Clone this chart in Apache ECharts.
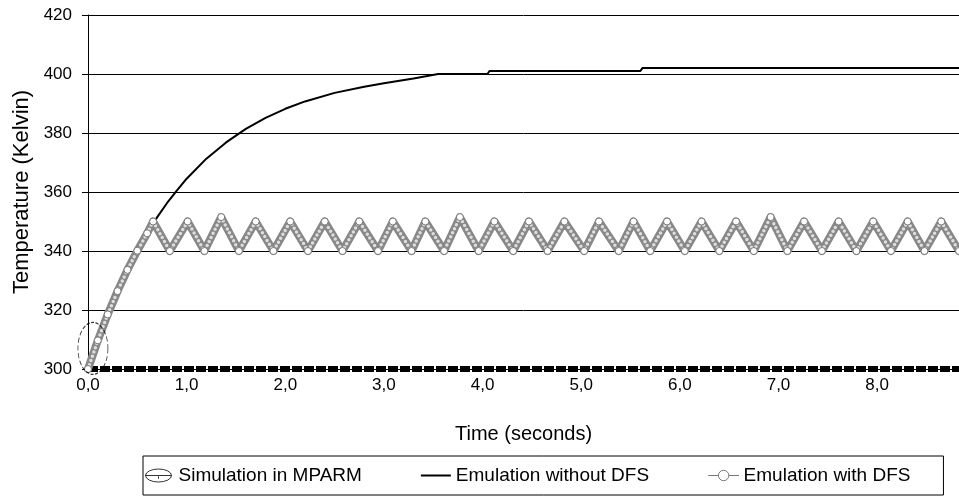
<!DOCTYPE html>
<html>
<head>
<meta charset="utf-8">
<script src="https://cdn.jsdelivr.net/npm/echarts@6/dist/echarts.min.js"></script>
<style>
  html, body { margin: 0; padding: 0; background: #fff; }
  #chart { width: 959px; height: 500px; }
</style>
</head>
<body>
<div id="chart"></div>
<script>
// --- data ---
const seriesNames = ['Simulation in MPARM', 'Emulation without DFS', 'Emulation with DFS'];
const tempTicks = [300, 320, 340, 360, 380, 400, 420];
const timeTicks = ['0,0', '1,0', '2,0', '3,0', '4,0', '5,0', '6,0', '7,0', '8,0'];
const timeEnd = 8.83;

// Emulation without DFS (steady climb, then integer steps)
const noDfsTime = [0, 0.1, 0.2, 0.3, 0.4, 0.5, 0.6, 0.7, 0.8, 0.9, 1.0, 1.2, 1.4, 1.6, 1.8, 2.0,
  2.2, 2.5, 2.8, 3.0, 3.3, 3.55, 4.05, 4.07, 5.6, 5.62, 8.83];
const noDfsTemp = [300, 309.7, 318.5, 326.4, 333.6, 340.1, 346.0, 351.4, 356.2, 360.5, 364.5, 371.3,
  376.8, 381.4, 385.1, 388.2, 390.7, 393.6, 395.7, 396.9, 398.5, 400, 400, 401, 401, 402, 402];

// Emulation with DFS: heating phase, then the sawtooth corners
const dfsTime = [0, 0.1, 0.2, 0.3, 0.4, 0.5, 0.6,
  0.66, 0.83, 1.01, 1.18, 1.35, 1.53, 1.70, 1.88, 2.05, 2.23, 2.40, 2.58, 2.75, 2.94,
  3.09, 3.28, 3.42, 3.61, 3.77, 3.96, 4.12, 4.31, 4.47, 4.66, 4.83, 5.03, 5.18, 5.38,
  5.53, 5.70, 5.87, 6.05, 6.22, 6.40, 6.57, 6.75, 6.92, 7.09, 7.26, 7.44, 7.61, 7.79,
  7.96, 8.14, 8.31, 8.48, 8.65, 8.83];
const dfsTemp = [300, 309.7, 318.5, 326.4, 333.6, 340.1, 346.0,
  350, 340, 350, 340, 351.5, 340, 350, 340, 350, 340, 350, 340, 350, 340,
  350, 340, 350, 340, 351.5, 340, 350, 340, 350, 340, 350, 340, 350, 340,
  350, 340, 350, 340, 350, 340, 350, 340, 351.5, 340, 350, 340, 350, 340,
  350, 340, 350, 340, 350, 340];

// Simulation in MPARM: only the very start, marked by an ellipse
const mparmTime = [0.05];
const mparmTemp = [307];

const pairs = (xs, ys) => xs.map((x, i) => [x, ys[i]]);
const FONT = '"Liberation Sans", Arial, sans-serif';
const dfsData = pairs(dfsTime, dfsTemp);

const chart = echarts.init(document.getElementById('chart'));
const option = {
  animation: false,
  grid: { left: 88, right: 0, top: 15, bottom: 131 },
  legend: {
    left: 143,
    top: 456,
    padding: [10, 33, 10, 2],
    itemGap: 59,
    itemWidth: 30,
    itemHeight: 13,
    borderColor: '#000',
    borderWidth: 1,
    textStyle: { fontFamily: FONT, fontSize: 19, color: '#000' },
    data: [
      {
        name: seriesNames[0],
        icon: 'path://M0,8 A16,8 0 1,0 32,8 A16,8 0 1,0 0,8 Z M0,8 L32,8 M16,9 L16,12',
        itemStyle: { color: 'rgba(0,0,0,0)', borderColor: '#000', borderWidth: 1, borderType: 'solid' }
      },
      {
        name: seriesNames[1],
        icon: 'path://M0,0 L30,0 L30,2 L0,2 Z',
        itemStyle: { color: '#000', borderWidth: 0 }
      },
      {
        name: seriesNames[2],
        lineStyle: { color: '#777', width: 1, type: 'solid' },
        itemStyle: { color: '#fff', borderColor: '#777', borderWidth: 1 }
      }
    ]
  },
  xAxis: {
    type: 'value',
    min: 0,
    max: timeEnd,
    interval: 1,
    name: 'Time (seconds)',
    nameLocation: 'middle',
    nameGap: 55,
    nameTextStyle: { fontFamily: FONT, fontSize: 20, color: '#000' },
    axisLine: { lineStyle: { color: '#000', width: 6, type: [10, 2], cap: 'butt' } },
    axisTick: { show: false },
    splitLine: { show: false },
    axisLabel: {
      margin: 8,
      showMaxLabel: false,
      fontFamily: FONT,
      fontSize: 17,
      color: '#000',
      formatter: (v) => (Number.isInteger(v) ? timeTicks[v] : '')
    }
  },
  yAxis: {
    type: 'value',
    min: tempTicks[0],
    max: tempTicks[tempTicks.length - 1],
    interval: tempTicks[1] - tempTicks[0],
    name: 'Temperature (Kelvin)',
    nameLocation: 'middle',
    nameGap: 55,
    nameTextStyle: { fontFamily: FONT, fontSize: 22, color: '#000' },
    axisLine: { show: true, lineStyle: { color: '#000', width: 1 } },
    axisTick: { show: true, length: 6, lineStyle: { color: '#000' } },
    splitLine: { lineStyle: { color: '#000', width: 1 } },
    axisLabel: { margin: 16, fontFamily: FONT, fontSize: 17, color: '#000' }
  },
  series: [
    {
      name: seriesNames[0],
      type: 'scatter',
      z: 5,
      symbol: 'circle',
      symbolSize: [30, 52],
      itemStyle: { color: 'rgba(0,0,0,0)', borderColor: '#000', borderWidth: 1, borderType: 'dashed' },
      data: pairs(mparmTime, mparmTemp)
    },
    {
      name: seriesNames[1],
      type: 'line',
      symbol: 'none',
      lineStyle: { color: '#000', width: 2 },
      data: pairs(noDfsTime, noDfsTemp)
    },
    {
      // grey body of the densely sampled marker chain
      name: seriesNames[2],
      type: 'line',
      symbol: 'circle',
      showSymbol: false,
      itemStyle: { color: '#fff', borderColor: '#777', borderWidth: 1 },
      lineStyle: { color: '#888', width: 8, cap: 'round', join: 'round' },
      data: dfsData
    },
    {
      // light centres of the overlapping markers, plus the corner markers
      type: 'line',
      silent: true,
      symbol: 'circle',
      symbolSize: 7,
      showAllSymbol: true,
      itemStyle: { color: '#fff', borderColor: '#777', borderWidth: 1 },
      lineStyle: { color: '#dedede', width: 3.5, type: [0, 4.5], cap: 'round' },
      data: dfsData
    }
  ]
};
chart.setOption(option);
window.addEventListener('resize', () => chart.resize());
</script>
</body>
</html>
